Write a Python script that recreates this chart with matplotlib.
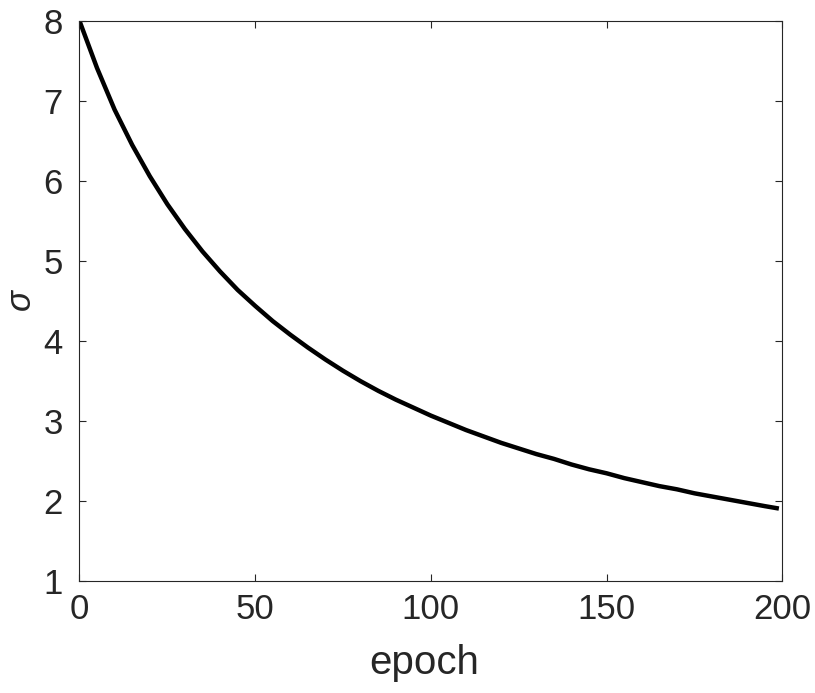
import matplotlib
matplotlib.use("Agg")
import matplotlib.pyplot as plt

# Data
epoch = [0, 5, 10, 15, 20, 25, 30, 35, 40, 45, 50, 55, 60, 65, 70, 75, 80, 85, 90, 95,
         100, 105, 110, 115, 120, 125, 130, 135, 140, 145, 150, 155, 160, 165, 170, 175,
         180, 185, 190, 195, 199]
sigma = [8.00, 7.41, 6.89, 6.45, 6.06, 5.71, 5.40, 5.12, 4.87, 4.64, 4.44, 4.25, 4.08,
         3.92, 3.77, 3.63, 3.50, 3.38, 3.27, 3.17, 3.07, 2.98, 2.89, 2.81, 2.73, 2.66,
         2.59, 2.53, 2.46, 2.40, 2.35, 2.29, 2.24, 2.19, 2.15, 2.10, 2.06, 2.02, 1.98,
         1.94, 1.91]
xticks = [0, 50, 100, 150, 200]
yticks = [1, 2, 3, 4, 5, 6, 7, 8]

plt.rcParams['font.family'] = ['Liberation Sans', 'DejaVu Sans']

fig = plt.figure(figsize=(8.15, 6.93), dpi=100)
ax = fig.add_axes([0.0975, 0.161, 0.8625, 0.809])

ax.plot(epoch, sigma, color='black', linewidth=3.2, solid_capstyle='butt')

ax.set_xlim(0, 200)
ax.set_ylim(1, 8)
ax.set_xticks(xticks)
ax.set_yticks(yticks)

axcol = (0.15, 0.15, 0.15)
ax.tick_params(direction='in', length=5, width=0.8, colors=axcol, labelsize=25,
               top=True, right=True)
ax.tick_params(axis='x', pad=8)
ax.tick_params(axis='y', pad=12)
for s in ax.spines.values():
    s.set_color(axcol)
    s.set_linewidth(0.8)

ax.set_xlabel('epoch', fontsize=29, color=axcol)
ax.xaxis.set_label_coords(0.49, -0.146, transform=ax.transAxes)
ax.xaxis.label.set_verticalalignment('center')
ax.set_ylabel('σ', fontsize=25, color=axcol, fontstyle='italic')
ax.yaxis.set_label_coords(20 / 815, (693 - 300) / 693, transform=fig.transFigure)
ax.yaxis.label.set_verticalalignment('center')

fig.savefig('out.png', dpi=100)
